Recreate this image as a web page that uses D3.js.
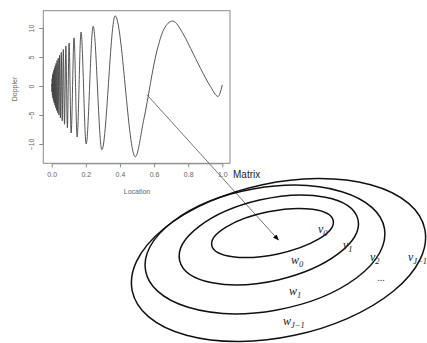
<!DOCTYPE html>
<html>
<head>
<meta charset="utf-8">
<script src="https://d3js.org/d3.v7.min.js"></script>
<style>
  body { margin: 0; background: #fff; }
  svg { display: block; }
</style>
</head>
<body>
<svg id="chart" width="427" height="343"></svg>
<script>
// Doppler signal (extrema + a few shape points)
const dopplerX = [0, 0.0002, 0.0015, 0.0028, 0.0041, 0.0056, 0.0071, 0.0087, 0.0103, 0.0121,
  0.014, 0.016, 0.0182, 0.0205, 0.0229, 0.0255, 0.0284, 0.0314, 0.0347, 0.0382,
  0.0421, 0.0463, 0.051, 0.0561, 0.0617, 0.068, 0.075, 0.0829, 0.0919, 0.102,
  0.114, 0.131, 0.149, 0.172, 0.202, 0.243, 0.294, 0.372, 0.49, 0.539,
  0.618, 0.656, 0.708, 0.774, 0.814, 0.873, 0.931, 0.975, 1.0];
const dopplerY = [0, 0.35, -1.0, 1.3, -1.6, 1.9, -2.1, 2.3, -2.5, 2.7,
  -2.9, 3.1, -3.3, 3.5, -3.7, 3.9, -4.2, 4.4, -4.6, 4.8,
  -5.0, 5.3, -5.5, 5.8, -6.0, 6.3, -6.6, 6.9, -7.2, 7.4,
  -8.1, 8.3, -8.8, 9.3, -10.0, 10.3, -11.0, 12.1, -12.2, -5.9,
  6.2, 9.7, 11.2, 8.8, 6.5, 3.0, -0.1, -1.8, 0.2];

const xTicks = [0, 0.2, 0.4, 0.6, 0.8, 1.0];
const yTicks = [-10, -5, 0, 5, 10];

// point on the curve where the arrow starts
const arrowFrom = [0.558, -1.5];

// contour labels, inner to outer
const vSubs = ["0", "1", "2", "J\u22121"];
const wSubs = ["0", "1", "J\u22121"];

const svg = d3.select("#chart");
const sans = "'Liberation Sans', Arial, sans-serif";
const serif = "'Liberation Serif', 'Times New Roman', serif";

// ---- little Doppler plot ----
const frame = { left: 43.3, right: 230, top: 10.7, bottom: 163.3 };
const x = d3.scaleLinear().domain([0, 1]).range([51.7, 222.3]);
const y = d3.scaleLinear().domain([-10, 10]).range([144, 28]);

svg.append("rect")
  .attr("x", frame.left).attr("y", frame.top)
  .attr("width", frame.right - frame.left)
  .attr("height", frame.bottom - frame.top)
  .attr("fill", "none").attr("stroke", "#8a8a8a").attr("stroke-width", 1);

const xAxis = svg.append("g")
  .attr("transform", `translate(0,${frame.bottom})`)
  .call(d3.axisBottom(x).tickValues(xTicks).tickFormat(d3.format(".1f"))
    .tickSize(4).tickPadding(5).tickSizeOuter(0));

const yAxis = svg.append("g")
  .attr("transform", `translate(${frame.left},0)`)
  .call(d3.axisLeft(y).tickValues(yTicks).tickSize(4).tickSizeOuter(0));
yAxis.select(".domain").attr("d", `M0,${y(-10)}H0V${y(10)}`);

yAxis.selectAll("text")
  .attr("transform", "rotate(-90)")
  .attr("x", 0).attr("y", -9).attr("dy", 0)
  .style("text-anchor", "middle");

[xAxis, yAxis].forEach(g => {
  g.selectAll("path,line").attr("stroke", "#8a8a8a");
  g.selectAll("text").attr("fill", "#666").style("font-family", sans).style("font-size", "7px");
});

svg.append("text")
  .attr("x", 137).attr("y", 194)
  .attr("text-anchor", "middle")
  .style("font-family", sans).style("font-size", "7px").attr("fill", "#666")
  .text("Location");

svg.append("text")
  .attr("transform", "translate(17,89) rotate(-90)")
  .attr("text-anchor", "middle")
  .style("font-family", sans).style("font-size", "7px").attr("fill", "#666")
  .text("Doppler");

const line = d3.line()
  .x(d => x(d[0]))
  .y(d => y(d[1]))
  .curve(d3.curveMonotoneX);

svg.append("path")
  .datum(d3.zip(dopplerX, dopplerY))
  .attr("d", line)
  .attr("fill", "none")
  .attr("stroke", "#444")
  .attr("stroke-width", 0.9);

// ---- arrow to the matrix ----
const arrowTo = [278.5, 240];
svg.append("defs").append("marker")
  .attr("id", "head")
  .attr("viewBox", "0 0 10 10")
  .attr("refX", 9).attr("refY", 5)
  .attr("markerWidth", 6).attr("markerHeight", 6)
  .attr("markerUnits", "userSpaceOnUse")
  .attr("orient", "auto")
  .append("path").attr("d", "M0,1L10,5L0,9Z").attr("fill", "#000");

svg.append("line")
  .attr("x1", x(arrowFrom[0])).attr("y1", y(arrowFrom[1]))
  .attr("x2", arrowTo[0]).attr("y2", arrowTo[1])
  .attr("stroke", "#666").attr("stroke-width", 0.9)
  .attr("marker-end", "url(#head)");

svg.append("text")
  .attr("x", 233).attr("y", 178)
  .style("font-family", sans).style("font-size", "10px").attr("fill", "#222")
  .text("Matrix");

// ---- nested contours ----
const rings = [
  { cx: 272.5, cy: 233, rx: 62, ry: 21.6, rot: -11.5 },
  { cx: 268.8, cy: 240, rx: 91.5, ry: 41, rot: -13 },
  { cx: 265, cy: 249.5, rx: 121.3, ry: 61.6, rot: -10 },
  { cx: 278.5, cy: 260, rx: 149.5, ry: 77, rot: -12 }
];

svg.append("g").selectAll("ellipse")
  .data(rings)
  .join("ellipse")
  .attr("transform", d => `translate(${d.cx},${d.cy}) rotate(${d.rot})`)
  .attr("rx", d => d.rx).attr("ry", d => d.ry)
  .attr("fill", "none").attr("stroke", "#111").attr("stroke-width", 1.5);

const vPos = [[318, 233], [343, 249], [370, 261], [408, 261]];
const wPos = [[291, 264], [289, 295], [283, 325]];

function subLabel(g, base, sub, pos) {
  const t = g.append("text")
    .attr("x", pos[0]).attr("y", pos[1])
    .style("font-family", serif).style("font-style", "italic")
    .style("font-size", "12px").attr("fill", "#222");
  t.append("tspan").text(base);
  t.append("tspan").attr("dy", 3).style("font-size", "8.5px").text(sub);
}

const labels = svg.append("g");
vSubs.forEach((s, i) => subLabel(labels, "v", s, vPos[i]));
wSubs.forEach((s, i) => subLabel(labels, "w", s, wPos[i]));

labels.append("text")
  .attr("x", 381).attr("y", 281)
  .attr("text-anchor", "middle")
  .style("font-family", serif).style("font-size", "10px").attr("fill", "#333")
  .text("...");
</script>
</body>
</html>
